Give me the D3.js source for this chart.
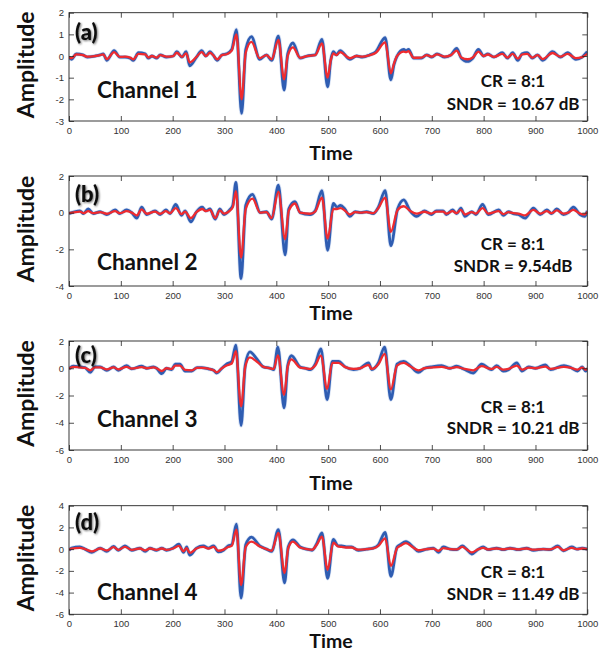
<!DOCTYPE html>
<html>
<head>
<meta charset="utf-8">
<script src="https://cdn.jsdelivr.net/npm/d3@7"></script>
<style>
  html, body { margin: 0; padding: 0; background: #fff; }
  svg { display: block; }
</style>
</head>
<body>
<svg id="chart" width="602" height="652"></svg>
<script>
// ---- Data: original (blue) vs. reconstructed (red) traces, four channels ----
const xTicks = [0, 100, 200, 300, 400, 500, 600, 700, 800, 900, 1000];

const time1 = [
  0, 5, 14, 27, 35, 50, 60, 66, 73, 87,
  98, 108, 118, 124, 134, 147, 153, 160, 169, 176,
  188, 201, 208, 218, 226, 233, 246, 256, 264, 272,
  278, 286, 295, 304, 314, 323, 333, 341, 352, 368,
  381, 391, 404, 415, 422, 432, 446, 459, 475, 488,
  499, 505, 510, 516, 523, 542, 555, 566, 580, 592,
  610, 621, 627, 633, 646, 650, 655, 665, 680, 690,
  700, 710, 725, 737, 748, 757, 769, 779, 790, 800,
  808, 820, 836, 846, 856, 866, 874, 884, 894, 904,
  914, 933, 948, 962, 978, 990, 1000];
const orig1 = [
  -0.05, -0.15, 0.10, 0.05, -0.05, 0.00, 0.05, 0.10, -0.20, 0.25,
  -0.05, -0.05, -0.10, -0.20, 0.15, 0.10, -0.10, 0.00, -0.10, 0.05,
  -0.05, 0.00, 0.20, -0.05, 0.20, -0.45, -0.05, 0.25, 0.00, 0.20,
  0.05, -0.20, 0.05, 0.10, 0.30, 1.22, -2.65, 0.30, 0.90, -0.15,
  0.05, -0.20, 0.92, -1.57, 0.10, 0.60, -0.10, 0.00, 0.05, 0.77,
  -1.42, -0.20, 0.20, 0.05, 0.25, -0.15, 0.00, -0.05, 0.05, 0.20,
  0.85, -1.10, -0.40, 0.00, 0.30, 0.25, 0.30, -0.10, -0.10, 0.05,
  -0.05, 0.10, -0.05, 0.05, 0.35, -0.10, -0.25, -0.10, 0.30, 0.00,
  0.10, -0.05, 0.15, -0.10, 0.15, -0.20, 0.10, 0.15, -0.10, 0.05,
  -0.20, 0.20, -0.05, 0.15, -0.15, -0.05, 0.20];
const recon1 = [
  -0.05, -0.10, 0.08, 0.04, -0.03, 0.00, 0.04, 0.08, -0.14, 0.18,
  -0.04, -0.03, -0.07, -0.15, 0.10, 0.08, -0.07, 0.00, -0.07, 0.04,
  -0.03, 0.00, 0.15, -0.04, 0.12, -0.30, -0.04, 0.18, 0.00, 0.15,
  0.04, -0.15, 0.04, 0.08, 0.25, 1.00, -2.00, 0.15, 0.65, -0.10,
  0.04, -0.15, 0.75, -1.08, 0.00, 0.40, -0.08, 0.00, 0.04, 0.58,
  -1.00, -0.20, 0.12, 0.04, 0.18, -0.10, 0.00, -0.03, 0.04, 0.15,
  0.63, -0.80, -0.35, 0.00, 0.20, 0.18, 0.22, -0.08, -0.07, 0.04,
  -0.03, 0.08, -0.03, 0.04, 0.25, -0.07, -0.15, -0.07, 0.20, 0.00,
  0.07, -0.04, 0.10, -0.07, 0.10, -0.12, 0.07, 0.10, -0.07, 0.04,
  -0.14, 0.14, -0.03, 0.10, -0.10, -0.05, 0.10];

const time2 = [
  0, 21, 28, 37, 47, 60, 73, 89, 98, 111,
  121, 131, 140, 150, 166, 176, 187, 195, 206, 217,
  224, 235, 246, 257, 264, 272, 282, 291, 299, 310,
  316, 322, 332, 341, 354, 369, 381, 391, 404, 417,
  424, 436, 446, 465, 475, 488, 499, 510, 517, 524,
  532, 542, 552, 563, 574, 587, 597, 610, 621, 634,
  646, 658, 671, 686, 699, 709, 722, 728, 740, 748,
  756, 764, 777, 785, 798, 809, 829, 838, 848, 857,
  867, 880, 896, 909, 922, 931, 941, 954, 963, 973,
  986, 995, 1000];
const orig2 = [
  -0.05, 0.10, -0.05, 0.20, -0.05, 0.05, -0.10, 0.15, -0.05, 0.15,
  0.00, -0.30, 0.30, -0.10, 0.10, -0.10, 0.15, -0.05, 0.45, -0.15,
  0.10, -0.50, 0.05, 0.30, 0.10, 0.20, -0.35, 0.20, -0.10, 0.15,
  0.40, 1.65, -3.60, 0.40, 1.00, 0.00, 0.05, -0.35, 1.50, -2.30,
  0.20, 0.60, 0.00, -0.10, 0.10, 1.20, -2.05, 0.50, 0.30, 0.40,
  0.20, -0.20, 0.05, 0.00, 0.05, -0.05, 0.30, 1.20, -1.80, 0.20,
  0.70, 0.10, -0.20, 0.10, -0.10, 0.10, 0.10, -0.10, 0.15, -0.05,
  0.25, -0.20, 0.05, -0.10, 0.45, -0.10, 0.15, -0.15, 0.05, -0.05,
  -0.10, -0.30, 0.25, -0.10, 0.15, -0.05, 0.20, -0.10, 0.00, 0.30,
  -0.10, -0.20, 0.10];
const recon2 = [
  -0.03, 0.06, -0.03, 0.08, -0.03, 0.03, -0.06, 0.08, -0.03, 0.08,
  0.00, -0.15, 0.18, -0.06, 0.06, -0.06, 0.08, -0.03, 0.25, -0.08,
  0.06, -0.30, 0.03, 0.20, 0.08, 0.15, -0.30, 0.12, -0.05, 0.10,
  0.30, 1.18, -2.45, 0.20, 0.77, 0.00, 0.03, -0.30, 1.15, -1.45,
  0.10, 0.50, 0.00, -0.06, 0.06, 0.82, -1.42, 0.20, 0.20, 0.25,
  0.12, -0.10, 0.03, 0.00, 0.03, -0.03, 0.25, 0.82, -1.05, 0.15,
  0.35, 0.10, -0.05, 0.05, -0.05, 0.06, 0.06, -0.05, 0.08, -0.03,
  0.15, -0.10, 0.03, -0.05, 0.25, -0.05, 0.08, -0.08, 0.03, -0.03,
  -0.05, -0.15, 0.15, -0.05, 0.08, -0.03, 0.12, -0.05, 0.00, 0.15,
  -0.05, -0.10, 0.05];

const time3 = [
  0, 8, 21, 31, 41, 50, 60, 73, 86, 95,
  111, 121, 140, 150, 163, 169, 179, 188, 198, 205,
  214, 224, 237, 247, 256, 269, 279, 285, 295, 304,
  314, 322, 332, 340, 349, 362, 375, 388, 395, 403,
  415, 422, 429, 446, 456, 466, 475, 486, 498, 508,
  520, 533, 549, 562, 578, 584, 597, 609, 621, 633,
  646, 658, 674, 686, 699, 719, 735, 748, 761, 780,
  796, 815, 825, 838, 848, 864, 874, 887, 900, 919,
  929, 955, 968, 981, 990, 997, 1000];
const orig3 = [
  -0.05, 0.15, 0.10, 0.05, -0.30, 0.10, 0.10, -0.15, 0.10, -0.15,
  0.20, -0.05, 0.15, 0.00, 0.10, 0.00, -0.40, 0.00, -0.10, 0.30,
  0.30, -0.20, -0.20, 0.05, 0.05, -0.05, -0.15, -0.35, 0.00, 0.30,
  0.50, 1.70, -4.20, 0.20, 1.20, 0.70, 0.10, 0.00, -0.10, 1.55,
  -2.90, 0.20, 0.92, 0.10, 0.00, -0.10, 0.30, 1.42, -2.30, 0.50,
  0.50, 0.10, -0.10, 0.00, 0.40, -0.10, 0.40, 1.55, -2.30, 0.30,
  0.50, 0.20, -0.30, 0.00, 0.10, 0.20, 0.00, 0.15, -0.05, -0.35,
  0.30, -0.10, 0.20, -0.20, -0.10, 0.40, -0.20, 0.10, 0.00, 0.25,
  -0.10, 0.20, 0.05, -0.20, 0.10, -0.20, 0.00];
const recon3 = [
  -0.03, 0.10, 0.06, 0.03, -0.15, 0.06, 0.06, -0.08, 0.06, -0.08,
  0.10, -0.03, 0.08, 0.00, 0.06, 0.00, -0.20, 0.00, -0.05, 0.20,
  0.20, -0.12, -0.15, 0.03, 0.03, -0.03, -0.15, -0.30, 0.00, 0.20,
  0.35, 1.25, -2.80, 0.10, 0.80, 0.50, 0.10, 0.00, -0.05, 0.95,
  -1.95, 0.10, 0.65, 0.05, 0.00, -0.05, 0.20, 0.92, -1.52, 0.40,
  0.40, 0.08, -0.05, 0.00, 0.25, -0.05, 0.30, 1.05, -1.55, 0.20,
  0.40, 0.15, -0.15, 0.00, 0.05, 0.10, 0.00, 0.08, -0.03, -0.15,
  0.15, -0.05, 0.10, -0.10, -0.05, 0.20, -0.10, 0.05, 0.00, 0.12,
  -0.05, 0.10, 0.03, -0.10, 0.05, -0.10, 0.00];

const time4 = [
  0, 5, 21, 31, 44, 60, 73, 86, 95, 108,
  121, 137, 147, 156, 169, 179, 188, 201, 212, 221,
  227, 233, 246, 259, 269, 279, 288, 298, 307, 314,
  323, 332, 341, 352, 368, 381, 391, 404, 416, 423,
  432, 446, 459, 469, 478, 488, 499, 510, 519, 526,
  535, 545, 558, 574, 587, 597, 610, 621, 633, 639,
  650, 664, 674, 690, 703, 713, 722, 735, 748, 759,
  767, 777, 790, 799, 809, 825, 838, 851, 867, 883,
  896, 915, 928, 943, 954, 970, 980, 990, 1000];
const orig4 = [
  -0.10, 0.10, 0.20, 0.00, -0.30, 0.10, -0.20, 0.25, -0.10, 0.30,
  -0.10, 0.10, -0.20, 0.10, -0.10, 0.10, -0.10, 0.10, 0.45, -0.30,
  0.20, -0.55, 0.10, 0.30, 0.10, 0.30, -0.25, -0.10, 0.30, 0.40,
  2.30, -4.50, 0.40, 1.10, 0.30, 0.00, -0.20, 1.80, -3.10, 0.20,
  0.85, 0.20, 0.00, -0.10, 0.50, 1.50, -2.70, 0.90, 0.30, 0.30,
  0.20, 0.20, -0.10, 0.00, 0.10, 0.40, 1.55, -2.50, 0.20, 0.40,
  0.70, 0.20, -0.20, 0.00, 0.10, -0.30, 0.20, 0.00, -0.05, 0.30,
  0.00, -0.45, 0.00, 0.20, -0.05, 0.10, -0.05, 0.10, -0.05, 0.10,
  -0.10, 0.00, -0.05, 0.30, -0.15, 0.20, 0.00, 0.10, 0.00];
const recon4 = [
  -0.05, 0.05, 0.12, 0.00, -0.20, 0.06, -0.12, 0.18, -0.06, 0.20,
  -0.06, 0.06, -0.12, 0.06, -0.06, 0.06, -0.06, 0.06, 0.30, -0.20,
  0.10, -0.35, 0.06, 0.20, 0.06, 0.20, -0.15, -0.05, 0.20, 0.30,
  1.80, -3.30, 0.20, 0.70, 0.25, 0.00, -0.15, 1.50, -2.20, 0.10,
  0.70, 0.15, 0.00, -0.05, 0.40, 1.15, -1.90, 0.60, 0.25, 0.20,
  0.15, 0.15, -0.05, 0.00, 0.06, 0.30, 1.00, -1.55, 0.10, 0.30,
  0.55, 0.15, -0.10, 0.00, 0.05, -0.15, 0.10, 0.00, -0.03, 0.20,
  0.00, -0.30, 0.00, 0.12, -0.03, 0.06, -0.03, 0.06, -0.03, 0.06,
  -0.05, 0.00, -0.03, 0.20, -0.10, 0.12, 0.00, 0.06, 0.00];

const panelTags = ["(a)", "(b)", "(c)", "(d)"];
const channelNames = ["Channel 1", "Channel 2", "Channel 3", "Channel 4"];
const ratioLabels = ["CR = 8:1", "CR = 8:1", "CR = 8:1", "CR = 8:1"];
const sndrLabels = ["SNDR = 10.67 dB", "SNDR = 9.54dB", "SNDR = 10.21 dB", "SNDR = 11.49 dB"];
const yDomains = [[-3, 2], [-4, 2], [-6, 2], [-6, 4]];
const yTickSets = [[-3, -2, -1, 0, 1, 2], [-4, -2, 0, 2], [-6, -4, -2, 0, 2], [-6, -4, -2, 0, 2, 4]];

// ---- Layout ----
const plotLeft = 69, plotRight = 587.3;
const frames = [
  { top: 12.7, bottom: 121,   tagY: 40,  chY: 98,  crY: 87,  sdY: 110, timeY: 160 },
  { top: 176,  bottom: 286,   tagY: 202, chY: 270, crY: 250, sdY: 272, timeY: 320 },
  { top: 341,  bottom: 450,   tagY: 363, chY: 427, crY: 413, sdY: 434, timeY: 490 },
  { top: 505.7, bottom: 614.3, tagY: 530, chY: 600, crY: 578, sdY: 600, timeY: 648 }
];

const series = [
  [time1, orig1, recon1],
  [time2, orig2, recon2],
  [time3, orig3, recon3],
  [time4, orig4, recon4]
];

const svg = d3.select("#chart");
svg.append("rect").attr("width", 602).attr("height", 652).attr("fill", "#fff");

const defs = svg.append("defs");
const shadow = defs.append("filter").attr("id", "tagShadow")
  .attr("x", "-30%").attr("y", "-30%").attr("width", "160%").attr("height", "160%");
shadow.append("feGaussianBlur").attr("in", "SourceAlpha").attr("stdDeviation", 1.3).attr("result", "b");
shadow.append("feOffset").attr("in", "b").attr("dx", 1).attr("dy", 1).attr("result", "o");
shadow.append("feComponentTransfer").attr("in", "o").attr("result", "s")
  .append("feFuncA").attr("type", "linear").attr("slope", 0.55);
const merge = shadow.append("feMerge");
merge.append("feMergeNode").attr("in", "s");
merge.append("feMergeNode").attr("in", "SourceGraphic");

const boldFont = "Lato, 'Open Sans', sans-serif";
const tickFont = "'Liberation Sans', Arial, sans-serif";

const x = d3.scaleLinear().domain([0, 1000]).range([plotLeft, plotRight]);

frames.forEach((f, i) => {
  const y = d3.scaleLinear().domain(yDomains[i]).range([f.bottom, f.top]);
  const g = svg.append("g");

  const clipId = "clip" + i;
  defs.append("clipPath").attr("id", clipId)
    .append("rect")
    .attr("x", plotLeft).attr("y", f.top)
    .attr("width", plotRight - plotLeft).attr("height", f.bottom - f.top);

  const [t, orig, recon] = series[i];
  const rows = t.map((tv, k) => ({ t: tv, o: orig[k], r: recon[k] }));

  const lineO = d3.line().x(d => x(d.t)).y(d => y(d.o)).curve(d3.curveMonotoneX);
  const lineR = d3.line().x(d => x(d.t)).y(d => y(d.r)).curve(d3.curveMonotoneX);

  const traces = g.append("g").attr("clip-path", `url(#${clipId})`);
  traces.append("path").datum(rows).attr("d", lineO)
    .attr("fill", "none").attr("stroke", "#a9bfe6").attr("stroke-width", 4.2)
    .attr("stroke-linejoin", "round").attr("opacity", 0.45);
  traces.append("path").datum(rows).attr("d", lineO)
    .attr("fill", "none").attr("stroke", "#2f5db2").attr("stroke-width", 2.8)
    .attr("stroke-linejoin", "round");
  traces.append("path").datum(rows).attr("d", lineR)
    .attr("fill", "none").attr("stroke", "#ef2b2f").attr("stroke-width", 2.3)
    .attr("stroke-linejoin", "round");

  // Axes: ticks point inward on all four sides
  const fmt = d => String(d);
  const styleAxis = sel => {
    sel.select(".domain").remove();
    sel.selectAll(".tick line").attr("stroke", "#222").attr("stroke-width", 0.8);
    sel.selectAll(".tick text").attr("font-family", tickFont).attr("font-size", 9.5).attr("fill", "#333");
  };
  g.append("g").attr("transform", `translate(0,${f.bottom})`)
    .call(d3.axisBottom(x).tickValues(xTicks).tickFormat(fmt).tickSize(-5).tickPadding(6))
    .call(styleAxis);
  g.append("g").attr("transform", `translate(0,${f.top})`)
    .call(d3.axisTop(x).tickValues(xTicks).tickFormat("").tickSize(-5))
    .call(styleAxis);
  g.append("g").attr("transform", `translate(${plotLeft},0)`)
    .call(d3.axisLeft(y).tickValues(yTickSets[i]).tickFormat(fmt).tickSize(-5).tickPadding(5))
    .call(styleAxis);
  g.append("g").attr("transform", `translate(${plotRight},0)`)
    .call(d3.axisRight(y).tickValues(yTickSets[i]).tickFormat("").tickSize(-5))
    .call(styleAxis);

  g.append("rect")
    .attr("x", plotLeft).attr("y", f.top)
    .attr("width", plotRight - plotLeft).attr("height", f.bottom - f.top)
    .attr("fill", "none").attr("stroke", "#222").attr("stroke-width", 0.9);

  // Labels
  g.append("text").text(panelTags[i])
    .attr("x", 75).attr("y", f.tagY)
    .attr("font-family", boldFont).attr("font-weight", 900).attr("font-size", 22)
    .attr("fill", "#111").attr("filter", "url(#tagShadow)");

  g.append("text").text(channelNames[i])
    .attr("x", 97).attr("y", f.chY)
    .attr("font-family", boldFont).attr("font-weight", 700).attr("font-size", 22.5)
    .attr("fill", "#111");

  g.append("text").text(ratioLabels[i])
    .attr("x", 513).attr("y", f.crY).attr("text-anchor", "middle")
    .attr("font-family", boldFont).attr("font-weight", 700).attr("font-size", 17)
    .attr("fill", "#111");
  g.append("text").text(sndrLabels[i])
    .attr("x", 513).attr("y", f.sdY).attr("text-anchor", "middle")
    .attr("font-family", boldFont).attr("font-weight", 700).attr("font-size", 17)
    .attr("fill", "#111");

  g.append("text").text("Time")
    .attr("x", 331).attr("y", f.timeY).attr("text-anchor", "middle")
    .attr("font-family", boldFont).attr("font-weight", 700).attr("font-size", 19.5)
    .attr("fill", "#111");

  const cy = (f.top + f.bottom) / 2 - 2;
  g.append("text").text("Amplitude")
    .attr("transform", `translate(34,${cy}) rotate(-90)`)
    .attr("text-anchor", "middle")
    .attr("font-family", boldFont).attr("font-weight", 700).attr("font-size", 23)
    .attr("fill", "#111");
});
</script>
</body>
</html>
